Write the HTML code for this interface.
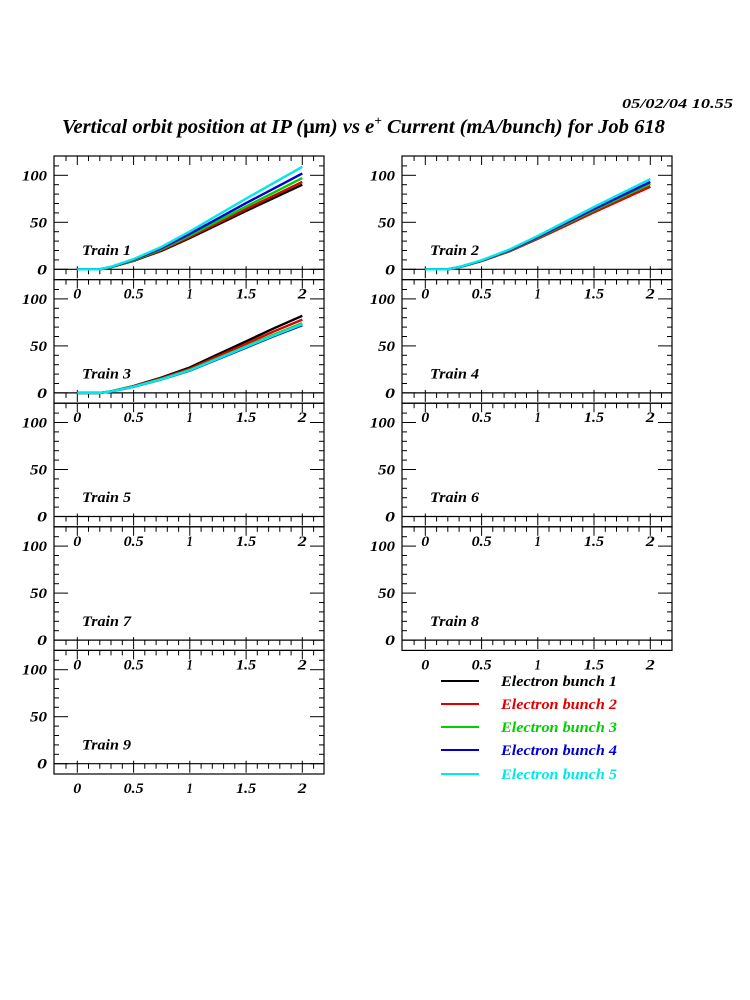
<!DOCTYPE html>
<html><head><meta charset="utf-8"><style>
html,body{margin:0;padding:0;background:#fff;width:750px;height:1000px;overflow:hidden}
svg text{font-family:"Liberation Serif",serif;font-weight:bold;font-style:italic}
</style></head><body>
<svg id="s" width="750" height="1000" xmlns="http://www.w3.org/2000/svg">
<text x="622" y="108" font-size="14" textLength="111" lengthAdjust="spacingAndGlyphs">05/02/04   10.55</text>
<text x="62" y="133" font-size="20" textLength="603" lengthAdjust="spacingAndGlyphs">Vertical orbit position at IP (<tspan font-style="normal">μ</tspan>m) vs e<tspan dy="-8" font-size="13">+</tspan><tspan dy="8"> Current (mA/bunch) for Job 618</tspan></text>
</svg>
<script>
const s=document.getElementById('s');let h='';
const cols=['#000','#e00000','#00d000','#0000d0','#00e8e8'];
const tops=[156,279.6,403.2,526.8,650.4],PH=123.6,PW=270;
function f3(x){return x.toFixed(1)}
const base=[[0,0],[0.2,0],[0.3,0.025],[0.5,0.1],[0.75,0.22],[1,0.37],[1.25,0.53],[1.5,0.69],[1.75,0.845],[2,1]];
const base3=[[0,0],[0.2,0],[0.3,0.02],[0.5,0.09],[0.75,0.2],[1,0.33],[1.25,0.5],[1.5,0.67],[1.75,0.84],[2,1]];
const data={1:[[90,base],[93,base],[97,base],[102,base],[109,base]],
 2:[[88,base],[88,base],[91,base],[93,base],[96,base]],
 3:[[82,base3],[78,base3],[74,base3],[72,base3],[73,base3]]};
const labs=[[0,'0',8],[0.5,'0.5',20],[1,'1',6],[1.5,'1.5',20],[2,'2',9]];
function panel(L,T,n){
 const x0=L+23.3,y0=T+113.3,sx=112.5,sy=0.94;
 h+=`<rect x="${L}" y="${T}" width="${PW}" height="${PH}" fill="none" stroke="#000" stroke-width="1.2"/>`;
 h+=`<line x1="${L}" y1="${y0}" x2="${L+PW}" y2="${y0}" stroke="#000" stroke-width="1.2"/>`;
 for(let i=-2;i<=21;i++){const x=x0+i*sx/10;if(x<L+1||x>L+PW-1)continue;const m=i%5==0?9:5;
  h+=`<line x1="${f3(x)}" y1="${y0-(i%5==0?3:0)}" x2="${f3(x)}" y2="${y0+m}" stroke="#000"/>`;
  h+=`<line x1="${f3(x)}" y1="${T}" x2="${f3(x)}" y2="${T+m}" stroke="#000"/>`;}
 for(let v=-10;v<=120;v+=10){const y=y0-v*sy;if(y<T+1||y>T+PH-1)continue;const m=v%50==0?14:5;
  h+=`<line x1="${L}" y1="${f3(y)}" x2="${L+m}" y2="${f3(y)}" stroke="#000"/>`;
  h+=`<line x1="${L+PW-m}" y1="${f3(y)}" x2="${L+PW}" y2="${f3(y)}" stroke="#000"/>`;}
 [[0,10],[50,17],[100,25]].forEach(([v,w])=>{h+=`<text x="${L-7-w}" y="${f3(y0-v*sy+5)}" font-size="15" textLength="${w}" lengthAdjust="spacingAndGlyphs">${v}</text>`});
 labs.forEach(([v,t,w])=>{h+=`<text x="${f3(x0+v*sx-w/2)}" y="${T+PH+19}" font-size="15" textLength="${w}" lengthAdjust="spacingAndGlyphs">${t}</text>`});
 h+=`<text x="${L+28}" y="${T+99}" font-size="15" textLength="49" lengthAdjust="spacingAndGlyphs">Train ${n}</text>`;
 if(data[n]){data[n].forEach(([k,b],i)=>{const p=b.map(([x,y])=>f3(x0+x*sx)+','+f3(y0-k*y*sy)).join(' ');
  h+=`<polyline points="${p}" fill="none" stroke="${cols[i]}" stroke-width="2.4"/>`;});}
}
let n=1;for(let r=0;r<5;r++){panel(54,tops[r],n++);if(r<4)panel(402,tops[r],n++);}
const ly=[681,704,727,750,774];
ly.forEach((y,i)=>{h+=`<line x1="441" y1="${y}" x2="479" y2="${y}" stroke="${cols[i]}" stroke-width="2"/>`;
 h+=`<text x="501" y="${y+5}" font-size="15" fill="${cols[i]}" textLength="116" lengthAdjust="spacingAndGlyphs">Electron bunch ${i+1}</text>`;});
s.insertAdjacentHTML('beforeend',h);
</script>
</body></html>
